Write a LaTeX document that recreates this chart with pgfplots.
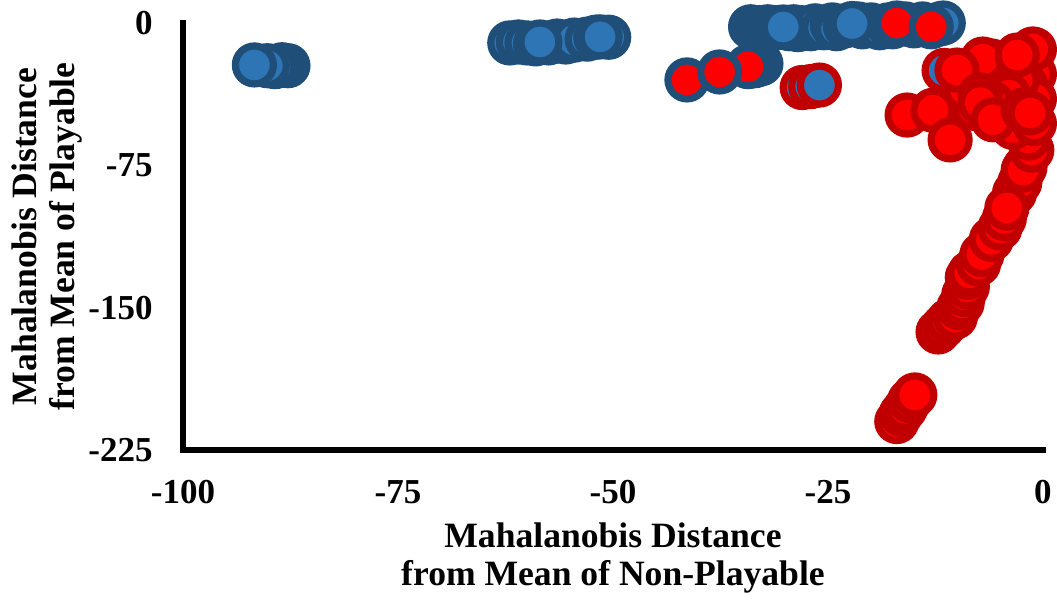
\documentclass[border=0pt]{standalone}
\usepackage{pgfplots}
\pgfplotsset{compat=1.18}
\usepackage{fontspec}
\setmainfont{Liberation Serif}
\definecolor{bfill}{HTML}{2E75B6}
\definecolor{bline}{HTML}{1F4E79}
\definecolor{rfill}{HTML}{FF0000}
\definecolor{rline}{HTML}{C00000}
\pgfplotsset{
  mk/.style n args={2}{only marks, mark=*, mark size=9.5pt,
    mark options={draw=#1, fill=#2, line width=3.6pt}},
}
\begin{document}
\begin{tikzpicture}
\begin{axis}[
  scale only axis, width=430pt, height=213.5pt,
  xmin=-100, xmax=0, ymin=-225, ymax=0,
  axis lines*=left,
  axis line style={line width=2.6pt, line cap=rect},
  xtick={-100,-75,-50,-25,0}, xticklabels={-100,-75,-50,-25,0},
  ytick={-225,-150,-75,0}, yticklabels={-225,-150,-75,0},
  major tick length=0pt,
  tick label style={font=\fontsize{17.5}{20}\selectfont\bfseries},
  xticklabel style={inner sep=0pt, yshift=-15pt},
  yticklabel style={inner sep=0pt, xshift=-15pt},
  xlabel={Mahalanobis Distance\\from Mean of Non-Playable},
  ylabel={Mahalanobis Distance\\from Mean of Playable},
  label style={font=\fontsize{17.8}{19}\selectfont\bfseries, align=center, inner sep=0pt},
  xlabel style={at={(axis description cs:0.5,-0.17)}, anchor=north},
  ylabel style={at={(axis description cs:-0.1587,0.5)}, anchor=center},
  clip=false,
]
\coordinate (bl) at (rel axis cs:0,0);
% correctly playable (blue fill, blue border)
\addplot[mk={bline}{bfill}] coordinates {
(-87.8,-22.5) (-88.5,-22) (-89.3,-23) (-90.2,-22.5) (-91.7,-22.1)
(-62,-10.5) (-61,-10) (-60,-10.5) (-59,-11) (-57.5,-10.5) (-56.5,-9.5)
(-55.5,-10) (-54.5,-9) (-53,-8.5) (-52,-7.5) (-50.5,-7.5) (-51.5,-7.3) (-58.5,-10)
(-34,-2) (-33.5,-3) (-33,-2.5) (-32.5,-3.5) (-32,-2) (-31.5,-3) (-31,-2.5)
(-29.5,-3) (-29,-2) (-28.5,-3.5) (-28,-2.5) (-27,-3) (-26.5,-1.5) (-25.5,-2.5)
(-24.5,-1) (-24,-3) (-23,-1.5) (-21.5,-0.5) (-21,-2) (-20,-1) (-19,-2.5)
(-18,-1) (-17.5,-2) (-16,-0.5) (-15,-1.5) (-14,-0.5) (-13,-1.5) (-12,-0.5)
(-11.6,0) (-30.2,-2.1) (-22.2,-0.3)
};
% red fill, blue border
\addplot[mk={bline}{rfill}] coordinates {
(-32.8,-21.5) (-33.5,-22.5) (-34.3,-23) (-41.4,-30) (-37.6,-25.8)
(-17,0) (-13,-2)
};
% blue fill, red border
\addplot[mk={rline}{bfill}] coordinates {
(-11.5,-25) (-28,-34) (-27,-33.5) (-26,-32.7)
};
% red fill, red border
\addplot[mk={rline}{rfill}] coordinates {
(-17,-210) (-16.5,-206) (-16,-203) (-15.5,-199) (-14.9,-196)
(-12.2,-162.8) (-11.6,-160) (-11,-157) (-10.2,-155) (-9.8,-150) (-9.4,-147.5)
(-9.2,-143) (-8.8,-139) (-8.8,-134) (-8.5,-131.7) (-7.5,-127) (-7.1,-122)
(-6,-114) (-5,-108) (-4.5,-103) (-3.3,-89.5) (-2.7,-84) (-4.2,-97.5)
(-2.1,-76) (-2.3,-77.5) (-1.3,-67) (-1.5,-55) (-1.7,-60.6)
(-1,-14) (-2,-20) (-1,-27) (-2,-33) (-1,-40) (-4,-22) (-5,-26) (-6,-20)
(-7,-24) (-8,-28) (-5,-32) (-3,-30) (-4,-38) (-6,-42) (-8,-45) (-9,-35)
(-3.5,-55) (-1,-53) (-1.2,-13.7) (-7,-19) (-3,-16.9) (-10,-24.8)
(-7.3,-37.9) (-15.8,-48.5) (-12.8,-46) (-10.8,-61.6) (-7.3,-42) (-5.8,-51)
(-2.3,-45.8) (-1.5,-47.4)
};
\end{axis}
\pgfresetboundingbox
\path (bl) ++(-91.5pt,-75pt) rectangle ++(528.5pt,300pt);
\end{tikzpicture}
\end{document}
